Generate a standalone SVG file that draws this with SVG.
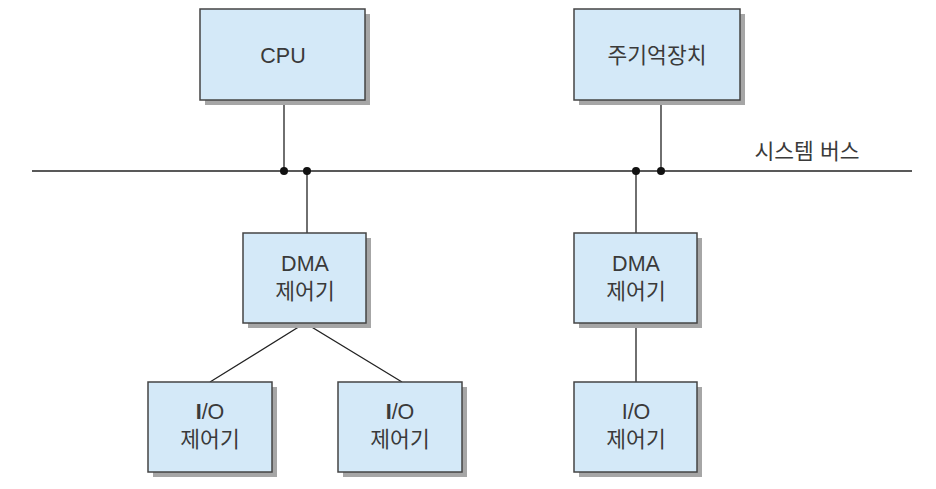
<svg xmlns="http://www.w3.org/2000/svg" width="936" height="489" viewBox="0 0 936 489">
<style>
.box{fill:#d4e9f8;stroke:#444;stroke-width:1.5}
.sh{fill:#a6a6a6}
.t{font-family:"Liberation Sans","Noto Sans CJK KR",sans-serif;font-size:21.5px;fill:#3a3a3a;text-anchor:middle}
.ln{stroke:#222;stroke-width:1.3;fill:none}
.dot{fill:#111}
</style>
<rect width="936" height="489" fill="#fff"/>
<g id="connectors">
<line class="ln" x1="32" y1="171" x2="912" y2="171"/>
<line class="ln" x1="284" y1="100" x2="284" y2="171"/>
<line class="ln" x1="307" y1="171" x2="307" y2="233"/>
<line class="ln" x1="661" y1="100" x2="661" y2="171"/>
<line class="ln" x1="636" y1="171" x2="636" y2="233"/>
<line class="ln" x1="636" y1="323" x2="636" y2="382"/>
<polyline class="ln" points="210,382 305,323 402,382"/>
<circle class="dot" cx="284" cy="171" r="4"/>
<circle class="dot" cx="307" cy="171" r="4"/>
<circle class="dot" cx="636" cy="171" r="4"/>
<circle class="dot" cx="661" cy="171" r="4"/>
</g>
<text class="t" x="807" y="159">시스템 버스</text>
<g id="cpu">
<rect class="sh" x="205" y="14" width="165" height="91"/>
<rect class="box" x="200" y="9" width="165" height="91"/>
<text class="t" x="283" y="63">CPU</text>
</g>
<g id="mem">
<rect class="sh" x="579" y="14" width="166" height="91"/>
<rect class="box" x="574" y="9" width="166" height="91"/>
<text class="t" x="657" y="63">주기억장치</text>
</g>
<g id="dma1">
<rect class="sh" x="248" y="238" width="123" height="90"/>
<rect class="box" x="243" y="233" width="123" height="90"/>
<text class="t" x="305" y="271">DMA</text>
<text class="t" x="305" y="299">제어기</text>
</g>
<g id="dma2">
<rect class="sh" x="579" y="238" width="123" height="90"/>
<rect class="box" x="574" y="233" width="123" height="90"/>
<text class="t" x="636" y="271">DMA</text>
<text class="t" x="636" y="299">제어기</text>
</g>
<g id="io1">
<rect class="sh" x="153" y="387" width="124" height="90"/>
<rect class="box" x="148" y="382" width="124" height="90"/>
<text class="t" x="210" y="419"><tspan font-weight="bold">I</tspan>/O</text>
<text class="t" x="210" y="447">제어기</text>
</g>
<g id="io2">
<rect class="sh" x="343" y="387" width="124" height="90"/>
<rect class="box" x="338" y="382" width="124" height="90"/>
<text class="t" x="400" y="419"><tspan font-weight="bold">I</tspan>/O</text>
<text class="t" x="400" y="447">제어기</text>
</g>
<g id="io3">
<rect class="sh" x="579" y="387" width="123" height="90"/>
<rect class="box" x="574" y="382" width="123" height="90"/>
<text class="t" x="636" y="419">I/O</text>
<text class="t" x="636" y="447">제어기</text>
</g>
</svg>
